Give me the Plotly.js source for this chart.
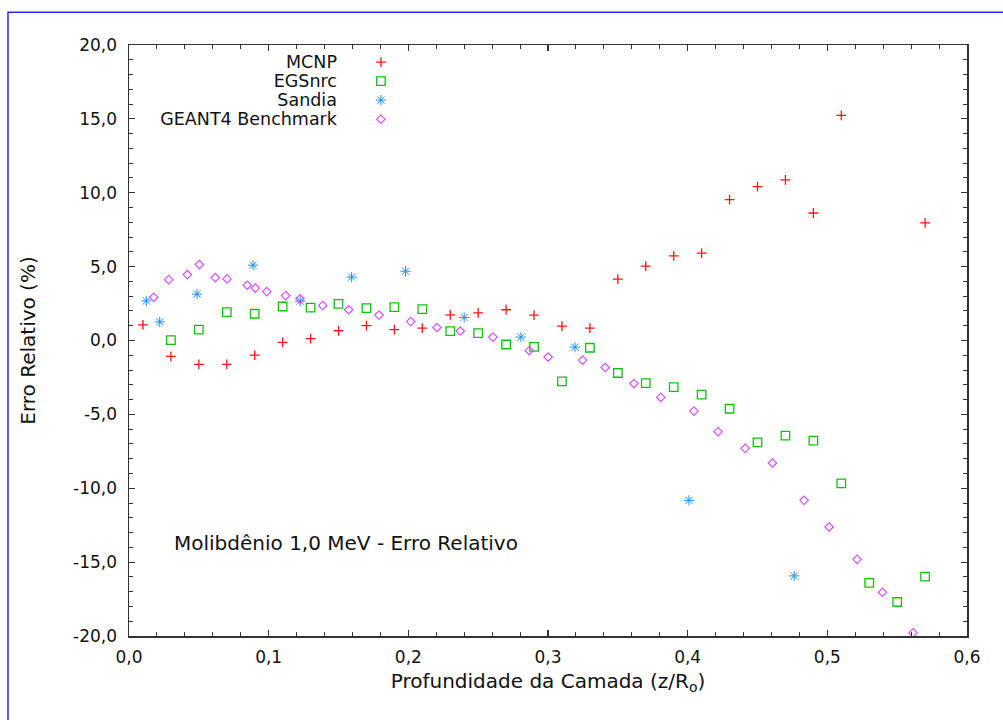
<!DOCTYPE html>
<html>
<head>
<meta charset="utf-8">
<script src="https://cdn.plot.ly/plotly-3.0.1.min.js"></script>
<style>
  html, body { margin: 0; padding: 0; background: #fff; }
  #chart { width: 1003px; height: 720px; }
</style>
</head>
<body>
<div id="chart"></div>
<script>
// ---- data ----
const mcnpX = [0.01,0.03,0.05,0.07,0.09,0.11,0.13,0.15,0.17,0.19,0.21,0.23,0.25,0.27,0.29,0.31,0.33,0.35,0.37,0.39,0.41,0.43,0.45,0.47,0.49,0.51,0.57];
const mcnpY = [1.06,-1.08,-1.62,-1.62,-0.99,-0.13,0.13,0.66,1.01,0.74,0.84,1.74,1.87,2.08,1.72,0.97,0.84,4.15,5.03,5.73,5.91,9.54,10.41,10.87,8.63,15.24,7.96];

const egsX = [0.03,0.05,0.07,0.09,0.11,0.13,0.15,0.17,0.19,0.21,0.23,0.25,0.27,0.29,0.31,0.33,0.35,0.37,0.39,0.41,0.43,0.45,0.47,0.49,0.51,0.53,0.55,0.57];
const egsY = [0.03,0.74,1.92,1.81,2.30,2.23,2.48,2.19,2.26,2.12,0.64,0.50,-0.27,-0.43,-2.77,-0.49,-2.20,-2.88,-3.15,-3.67,-4.62,-6.90,-6.44,-6.78,-9.67,-16.40,-17.70,-15.98];

const sandiaX = [0.0124,0.022,0.0487,0.0888,0.1226,0.1594,0.198,0.240,0.2806,0.3193,0.4009,0.4763];
const sandiaY = [2.68,1.26,3.14,5.10,2.66,4.29,4.69,1.56,0.23,-0.45,-10.82,-15.93];

const geantX = [0.0177,0.0284,0.0418,0.0504,0.0618,0.0702,0.0847,0.0905,0.0986,0.1122,0.1224,0.1387,0.1573,0.179,0.2017,0.2205,0.2372,0.2606,0.2866,0.3001,0.3248,0.341,0.3615,0.3808,0.4045,0.4218,0.4412,0.4607,0.4834,0.5013,0.5213,0.5395,0.5614];
const geantY = [2.93,4.12,4.46,5.14,4.26,4.17,3.74,3.54,3.31,3.04,2.82,2.37,2.08,1.72,1.28,0.88,0.64,0.23,-0.68,-1.12,-1.33,-1.83,-2.91,-3.85,-4.78,-6.17,-7.30,-8.29,-10.82,-12.62,-14.81,-17.04,-19.79];

const seriesNames = ["MCNP", "EGSnrc", "Sandia", "GEANT4 Benchmark"];
const yTickVals = [-20, -15, -10, -5, 0, 5, 10, 15, 20];
const yTickText = ["-20,0", "-15,0", "-10,0", "-5,0", "0,0", "5,0", "10,0", "15,0", "20,0"];
const xTitle = "Profundidade da Camada (z/R<sub>o</sub>)";
const yTitle = "Erro Relativo (%)";
const noteText = "Molibdênio 1,0 MeV - Erro Relativo";

// ---- traces ----
const FONT = "DejaVu Sans, Verdana, sans-serif";
function tr(x, y, name, symbol, size, color, lw) {
  return {
    type: "scatter", mode: "markers", x: x, y: y, name: name,
    cliponaxis: false,
    marker: { symbol: symbol, size: size, color: color, line: { color: color, width: lw } }
  };
}
const data = [
  tr(mcnpX, mcnpY, seriesNames[0], "cross-thin-open", 7, "rgb(255,20,20)", 1.3),
  tr(egsX, egsY, seriesNames[1], "square-open", 8.5, "rgb(20,190,20)", 1.3),
  tr(sandiaX, sandiaY, seriesNames[2], "asterisk-open", 8.5, "rgb(30,144,255)", 1),
  tr(geantX, geantY, seriesNames[3], "diamond-open", 6.5, "rgb(210,80,255)", 1.2)
];

const axisCommon = {
  showline: true, linecolor: "#333", linewidth: 1.5, mirror: "ticks",
  ticks: "inside", ticklen: 6, tickwidth: 1.2, tickcolor: "#333",
  showgrid: false, zeroline: false, fixedrange: true,
  tickfont: { family: FONT, size: 17, color: "#111" }
};

const layout = {
  width: 1003, height: 720,
  margin: { l: 129, r: 36, t: 45, b: 84 },
  paper_bgcolor: "#fff", plot_bgcolor: "#fff",
  separators: ",.",
  font: { family: FONT, color: "#111" },
  xaxis: Object.assign({}, axisCommon, {
    range: [0, 0.6], dtick: 0.1, tick0: 0, tickformat: ".1f", ticklabelstandoff: 5,
    minor: { dtick: 0.02, ticks: "inside", ticklen: 4, tickcolor: "#333", tickwidth: 1 },
    title: { text: xTitle, font: { family: FONT, size: 20, color: "#111" }, standoff: 8 }
  }),
  yaxis: Object.assign({}, axisCommon, {
    range: [-20, 20], tickmode: "array", tickvals: yTickVals, ticktext: yTickText, ticklabelstandoff: 7,
    minor: { dtick: 1, tick0: 0, ticks: "inside", ticklen: 4, tickcolor: "#333", tickwidth: 1 },
    title: { text: yTitle, font: { family: FONT, size: 20, color: "#111" }, standoff: 32 }
  }),
  showlegend: true,
  legend: {
    x: 0.2768, xanchor: "left", y: 0.9955, yanchor: "top",
    bgcolor: "rgba(0,0,0,0)", borderwidth: 0,
    font: { family: FONT, size: 11, color: "#111" },
    tracegroupgap: 0
  },
  annotations: [{
    xref: "paper", yref: "paper", x: 0.0513, y: 0.158, xanchor: "left", yanchor: "middle",
    text: noteText, showarrow: false, font: { family: FONT, size: 20, color: "#111" }
  }],
  shapes: [{
    type: "rect", xref: "paper", yref: "paper",
    x0: -0.1444, x1: 1.2, y0: -0.3, y1: 1.0555,
    line: { color: "rgb(40,40,255)", width: 1.5 }, fillcolor: "rgba(0,0,0,0)", layer: "below"
  }]
};

Plotly.newPlot("chart", data, layout, { displayModeBar: false, staticPlot: true }).then(function (gd) {
  // reference legend: right-aligned label to the left of the symbol
  gd.querySelectorAll(".legend .scrollbox, .legend").forEach(function (g) {
    g.removeAttribute("clip-path");
  });
  gd.querySelectorAll(".legend .traces text.legendtext").forEach(function (t) {
    t.setAttribute("text-anchor", "end");
    t.setAttribute("x", "-24");
    t.setAttribute("y", "6");
    t.style.fontSize = "17.5px";
  });
});
</script>
</body>
</html>
